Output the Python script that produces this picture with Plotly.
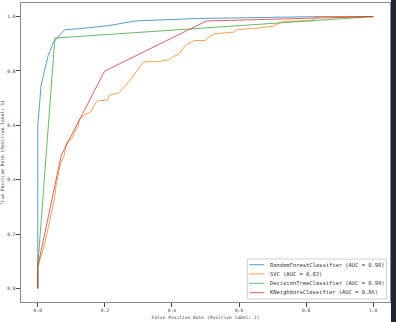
import plotly.graph_objects as go

# ---- data ----
rf_fpr = [0, 0, 0, 0.01, 0.031, 0.047, 0.079, 0.128, 0.213, 0.29, 0.48, 0.84, 1.0]
rf_tpr = [0, 0.07, 0.6, 0.748, 0.857, 0.906, 0.951, 0.956, 0.967, 0.984, 0.993, 1.0, 1.0]

svc_fpr = [0, 0, 0.005, 0.01, 0.015, 0.02, 0.025, 0.03, 0.035, 0.04, 0.045, 0.05, 0.054, 0.058,
           0.064, 0.068, 0.073, 0.079, 0.084, 0.093, 0.103, 0.108, 0.12, 0.123, 0.138, 0.158,
           0.168, 0.178, 0.208, 0.213, 0.241, 0.253, 0.263, 0.282, 0.292, 0.307, 0.315, 0.362,
           0.392, 0.402, 0.422, 0.432, 0.447, 0.467, 0.5, 0.506, 0.526, 0.586, 0.591, 0.624,
           0.66, 0.702, 0.715, 0.73, 0.815, 0.825, 0.843, 1.0]
svc_tpr = [0, 0.08, 0.1, 0.12, 0.14, 0.16, 0.19, 0.22, 0.25, 0.28, 0.31, 0.33, 0.375, 0.4,
           0.443, 0.46, 0.473, 0.491, 0.528, 0.546, 0.552, 0.571, 0.595, 0.619, 0.638, 0.65,
           0.674, 0.69, 0.693, 0.711, 0.719, 0.735, 0.747, 0.778, 0.796, 0.82, 0.833, 0.835,
           0.842, 0.851, 0.864, 0.882, 0.9, 0.912, 0.912, 0.921, 0.937, 0.943, 0.951, 0.955,
           0.958, 0.965, 0.973, 0.982, 0.985, 0.994, 1.0, 1.0]

dt_fpr = [0, 0, 0.051, 1.0]
dt_tpr = [0, 0.08, 0.921, 1.0]

knn_fpr = [0, 0, 0.07, 0.199, 0.503, 1.0]
knn_tpr = [0, 0.08, 0.49, 0.799, 0.984, 1.0]

names = ["RandomForestClassifier", "SVC", "DecisionTreeClassifier", "KNeighborsClassifier"]
aucs = [0.98, 0.83, 0.94, 0.86]
colors = ["#1f77b4", "#ff7f0e", "#2ca02c", "#d62728"]
ticks = [0.0, 0.2, 0.4, 0.6, 0.8, 1.0]
tick_labels = ["0.0", "0.2", "0.4", "0.6", "0.8", "1.0"]

series = [(rf_fpr, rf_tpr), (svc_fpr, svc_tpr), (dt_fpr, dt_tpr), (knn_fpr, knn_tpr)]

W, H = 396, 322
ML, MR, MT, MB = 21, 6, 3, 20
PW, PH = W - ML - MR, H - MT - MB

def px2paper_x(px):
    return (px - ML) / PW

def py2paper_y(py):
    return (H - MB - py) / PH

MONO = "DejaVu Sans Mono"

fig = go.Figure()
for (fx, ty), name, auc, col in zip(series, names, aucs, colors):
    fig.add_trace(go.Scatter(x=fx, y=ty, mode="lines", name=f"{name} (AUC = {auc:.2f})",
                             line=dict(color=col, width=0.9), opacity=0.8, showlegend=False))

axis_common = dict(
    showgrid=False, zeroline=False, showline=True, mirror=True,
    linecolor="#8a8a8a", linewidth=1.2,
    ticks="outside", ticklen=3.5, tickwidth=0.8, tickcolor="#444",
    tickvals=ticks, ticktext=tick_labels,
    tickfont=dict(family=MONO, size=4.6, color="#444"),
)

fig.update_xaxes(range=[-0.05, 1.05], **axis_common,
                 title=dict(text="False Positive Rate (Positive label: 1)",
                            font=dict(family=MONO, size=4.6, color="#444"), standoff=3))
fig.update_yaxes(range=[-0.05, 1.05], **axis_common,
                 title=dict(text="True Positive Rate (Positive label: 1)",
                            font=dict(family=MONO, size=4.6, color="#444"), standoff=3))

# manual legend (matplotlib-style compact box)
shapes = []
annotations = []
box_l, box_r, box_t, box_b = 247.3, 386.5, 259, 299
shapes.append(dict(type="rect", xref="paper", yref="paper",
                   x0=px2paper_x(box_l), x1=px2paper_x(box_r),
                   y0=py2paper_y(box_b), y1=py2paper_y(box_t),
                   line=dict(color="#d0d0d0", width=1), fillcolor="rgba(255,255,255,0.85)",
                   layer="above"))
row_y = [264.7, 273.9, 283.3, 292.7]
for name, auc, col, ry in zip(names, aucs, colors, row_y):
    shapes.append(dict(type="line", xref="paper", yref="paper",
                       x0=px2paper_x(249.3), x1=px2paper_x(264.3),
                       y0=py2paper_y(ry), y1=py2paper_y(ry),
                       line=dict(color=col, width=0.9), opacity=0.8, layer="above"))
    annotations.append(dict(xref="paper", yref="paper", x=px2paper_x(267.8), y=py2paper_y(ry),
                            xanchor="left", yanchor="middle", showarrow=False,
                            text=f"{name} (AUC = {auc:.2f})",
                            font=dict(family=MONO, size=5.45, color="#333")))

# dark window frame strip on the right edge
shapes.append(dict(type="rect", xref="paper", yref="paper",
                   x0=px2paper_x(391), x1=px2paper_x(397),
                   y0=py2paper_y(323), y1=py2paper_y(-1),
                   line=dict(width=0), fillcolor="#1d2733", layer="above"))

fig.update_layout(
    width=W, height=H,
    margin=dict(l=ML, r=MR, t=MT, b=MB, autoexpand=False),
    plot_bgcolor="white", paper_bgcolor="white",
    shapes=shapes, annotations=annotations,
    showlegend=False,
)

fig.write_html("out.html")
